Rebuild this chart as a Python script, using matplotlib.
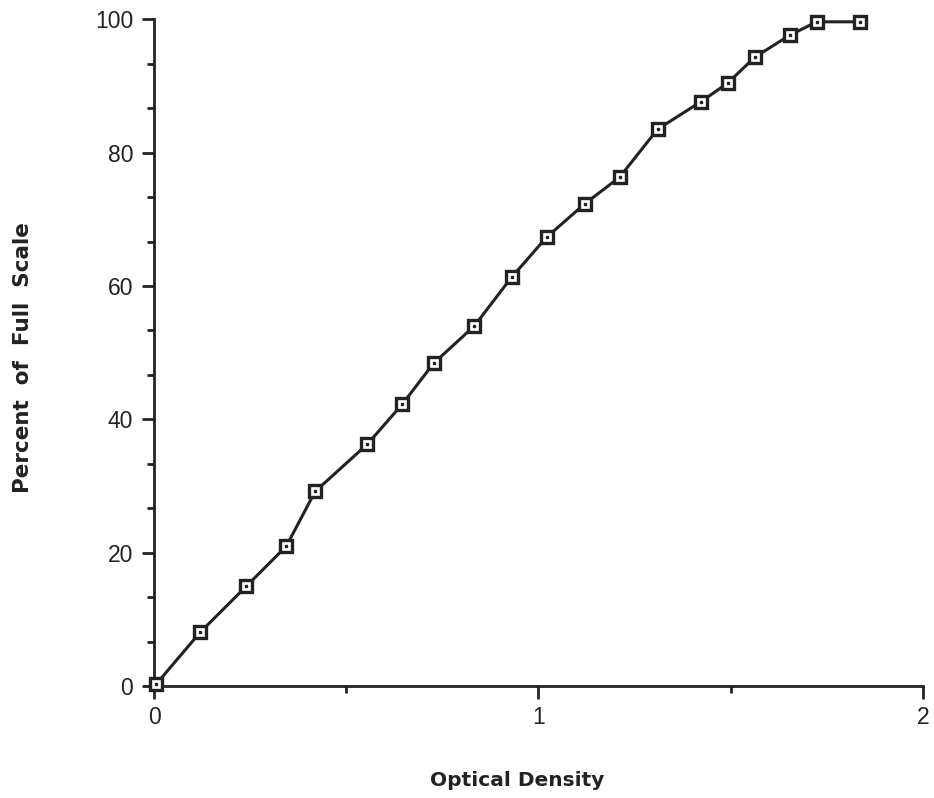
import matplotlib
matplotlib.use("Agg")
import matplotlib.pyplot as plt
from matplotlib.ticker import MultipleLocator

optical_density = [0.005, 0.120, 0.240, 0.344, 0.419, 0.555, 0.646, 0.727, 0.833, 0.930,
                   1.021, 1.120, 1.211, 1.310, 1.422, 1.492, 1.563, 1.654, 1.724, 1.836]
percent_full_scale = [0.3, 8.1, 15.0, 21.0, 29.2, 36.3, 42.3, 48.4, 54.0, 61.3,
                      67.3, 72.3, 76.3, 83.5, 87.6, 90.4, 94.3, 97.6, 99.6, 99.6]
x_ticks = [0, 1, 2]
y_ticks = [0, 20, 40, 60, 80, 100]

plt.rcParams['font.family'] = ['Liberation Sans', 'DejaVu Sans']

fig = plt.figure(figsize=(9.34, 7.98), dpi=100)
ax = fig.add_axes([0.165, 0.140, 0.823, 0.836])

ax.plot(optical_density, percent_full_scale, color='#222222', lw=2.2,
        marker='s', ms=8.5, mfc='white', mec='#222222', mew=2.4, zorder=3,
        clip_on=False)
ax.plot(optical_density, percent_full_scale, ls='none', marker='s', ms=1.6,
        color='#222222', zorder=4, clip_on=False)

ax.set_xlim(0, 2)
ax.set_ylim(0, 100)
ax.set_xticks(x_ticks)
ax.set_yticks(y_ticks)
ax.xaxis.set_minor_locator(MultipleLocator(0.5))
ax.yaxis.set_minor_locator(MultipleLocator(20 / 3))

for s in ['top', 'right']:
    ax.spines[s].set_visible(False)
for s in ['left', 'bottom']:
    ax.spines[s].set_linewidth(2.0)
    ax.spines[s].set_color('#222222')

ax.tick_params(axis='both', which='major', direction='out', length=9, width=2,
               colors='#222222', labelsize=16.5, labelcolor='#222222')
ax.tick_params(axis='both', which='minor', direction='out', length=5, width=2,
               colors='#222222')
ax.tick_params(axis='x', which='major', pad=5)
ax.tick_params(axis='y', which='major', pad=6)

ax.set_xlabel('Optical Density', fontsize=14.5, fontweight='bold',
              color='#222222', family=['DejaVu Sans'])
ax.xaxis.set_label_coords(0.472, -0.127)
ax.set_ylabel('Percent  of  Full  Scale', fontsize=15.5, fontweight='bold',
              color='#222222', family=['DejaVu Sans'])
ax.yaxis.set_label_coords(-0.157, 0.492)

fig.savefig('out.png', dpi=100)
